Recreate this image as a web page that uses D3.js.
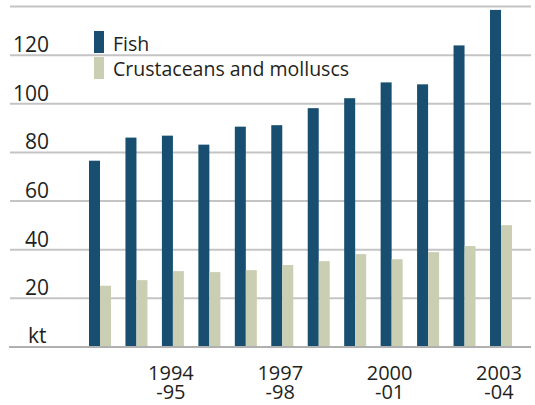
<!DOCTYPE html>
<html><head><meta charset="utf-8">
<script src="https://cdn.jsdelivr.net/npm/d3@7"></script>
<style>body{margin:0;background:#fff}svg{display:block}text{font-family:"Open Sans",sans-serif;fill:#231f20}</style>
</head><body><svg id="c" width="535" height="405"></svg>
<script>
const categories=["1992-93","1993-94","1994-95","1995-96","1996-97","1997-98","1998-99","1999-00","2000-01","2001-02","2002-03","2003-04"];
const fish=[76.6,86.1,86.9,83.2,90.6,91.2,98.2,102.3,108.8,108,124,138.6];
const crust=[25.2,27.5,31.2,30.8,31.6,33.7,35.3,38.2,36.1,39,41.5,50.1];
const seriesNames=["Fish","Crustaceans and molluscs"];
const yTicks=[20,40,60,80,100,120];
const gridTicks=[20,40,60,80,100,120,140];
const labelled={"1994-95":["1994","-95"],"1997-98":["1997","-98"],"2000-01":["2000","-01"],"2003-04":["2003","-04"]};
const colors=["#184f71","#cacfb3"];

const svg=d3.select("#c");
const x0=d3.scaleBand().domain(categories).range([89,512]).paddingInner(0.3964).paddingOuter(0);
const x1=d3.scaleBand().domain([0,1]).range([0,x0.bandwidth()]);
const y=d3.scaleLinear().domain([0,140]).range([347,6.5]);

svg.append("g").selectAll("line").data(gridTicks).join("line")
 .attr("x1",10).attr("x2",531).attr("y1",d=>y(d)).attr("y2",d=>y(d))
 .attr("stroke","#c4c4c4").attr("stroke-width",2);

svg.append("g").selectAll("text").data(yTicks).join("text")
 .attr("x",49).attr("y",d=>y(d)-3).attr("text-anchor","end")
 .attr("font-size",21).text(d=>d);
svg.append("text").attr("x",28).attr("y",343).attr("font-size",21).text("kt");

const data=[fish,crust];
const g=svg.append("g");
data.forEach((vals,s)=>{
 g.append("g").selectAll("rect").data(vals).join("rect")
  .attr("x",(d,i)=>x0(categories[i])+x1(s))
  .attr("width",x1.bandwidth())
  .attr("y",d=>y(d)).attr("height",d=>y(0)-y(d))
  .attr("fill",colors[s]);
});

svg.append("line").attr("x1",9).attr("x2",531).attr("y1",y(0)).attr("y2",y(0))
 .attr("stroke","#b0b0b0").attr("stroke-width",2);

const lab=svg.append("g");
categories.forEach(c=>{
 if(!labelled[c])return;
 const cx=x0(c)+x0.bandwidth()/2-2;
 const t=lab.append("text").attr("x",cx).attr("y",380).attr("text-anchor","middle").attr("font-size",20);
 t.append("tspan").attr("x",cx).text(labelled[c][0]);
 t.append("tspan").attr("x",cx).attr("dy",19).text(labelled[c][1]);
});

const leg=svg.append("g");
seriesNames.forEach((n,i)=>{
 leg.append("rect").attr("x",94).attr("y",31+i*26).attr("width",10).attr("height",22).attr("fill",colors[i]);
 leg.append("text").attr("x",113).attr("y",51+i*25).attr("font-size",19.5).text(n);
});
</script></body></html>
